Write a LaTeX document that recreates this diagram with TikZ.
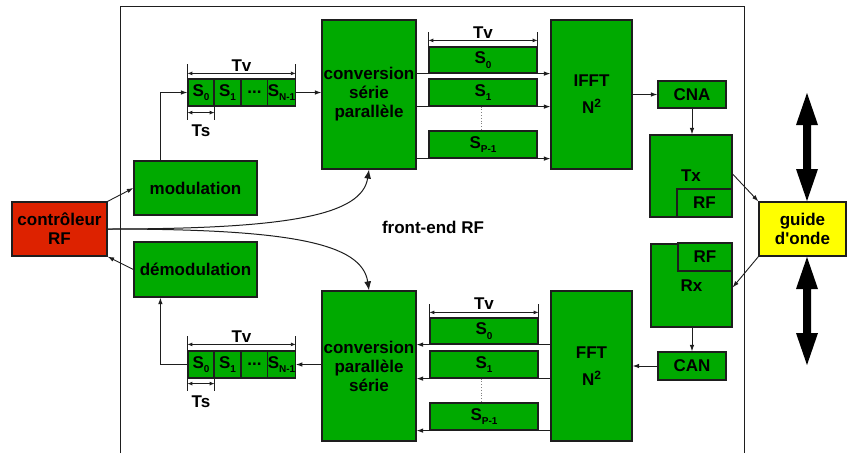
\documentclass[tikz,border=0pt]{standalone}
\usepackage{fontspec}
\setmainfont{Liberation Sans}[Ligatures=TeXOff]
\usetikzlibrary{arrows.meta,calc}
\definecolor{grn}{RGB}{0,170,0}
\definecolor{ctrlred}{RGB}{221,34,0}
\definecolor{gyellow}{RGB}{255,255,0}
\definecolor{bord}{RGB}{30,30,30}
\newcommand{\subs}[1]{\raisebox{-4.5pt}{\fontsize{10}{10}\selectfont #1}}
\begin{document}
\begin{tikzpicture}[x=1pt,y=-1pt,
  font=\fontsize{17}{19}\selectfont\bfseries,
  blk/.style={draw=bord,fill=grn,line width=1.2pt,inner sep=0pt,align=center},
  arr/.style={-{Latex[length=6.5pt,width=4.5pt]},line width=0.9pt,draw=bord},
  bigarr/.style={-{Latex[length=9pt,width=7pt]},line width=1pt,draw=bord},
  dimarr/.style={{Latex[length=5pt,width=4pt]}-{Latex[length=5pt,width=4pt]},line width=0.9pt,draw=bord},
  ext/.style={line width=0.8pt,draw=bord},
  lbl/.style={inner sep=0pt}]
\useasboundingbox (0,0) rectangle (847,453);
% frame
\draw[line width=1pt,bord] (120,453) -- (120,6) -- (744,6) -- (744,453);

% main blocks
\node[blk,fill=ctrlred,minimum width=95pt,minimum height=54pt] (ctrl) at (59.5,229) {contrôleur\\RF};
\node[blk,minimum width=123pt,minimum height=54pt] (mod) at (195.5,188) {modulation};
\node[blk,minimum width=123pt,minimum height=55pt] (demod) at (195.5,269.5) {démodulation};
\node[blk,minimum width=94pt,minimum height=149pt] (conv1) at (369,94.5) {conversion\\série\\parallèle};
\node[blk,minimum width=94pt,minimum height=150pt] (conv2) at (369,366) {conversion\\parallèle\\série};
\node[blk,minimum width=81pt,minimum height=149pt] (ifft) at (591.5,94.5) {IFFT\\[8pt]N\raisebox{6pt}{\fontsize{12}{12}\selectfont 2}};
\node[blk,minimum width=81pt,minimum height=150pt] (fft) at (591.5,366) {FFT\\[8pt]N\raisebox{6pt}{\fontsize{12}{12}\selectfont 2}};
\node[blk,minimum width=68pt,minimum height=27pt] (cna) at (692,94.5) {CNA};
\node[blk,minimum width=68pt,minimum height=28pt] (can) at (692,366) {CAN};
\node[blk,minimum width=82pt,minimum height=82pt] (tx) at (691,176) {Tx};
\node[blk,minimum width=55pt,minimum height=28pt] (txrf) at (704.5,203) {RF};
\node[blk,minimum width=81pt,minimum height=83pt] (rx) at (691.5,285.5) {Rx};
\node[blk,minimum width=54pt,minimum height=28pt] (rxrf) at (705,257) {RF};
\node[blk,fill=gyellow,minimum width=87pt,minimum height=54pt] (guide) at (802.5,229) {guide\\d'onde};

% top symbol strip
\node[blk,minimum width=26pt,minimum height=27pt] (ts0) at (201,92.5) {S\subs{0}};
\node[blk,minimum width=27pt,minimum height=27pt] (ts1) at (227.5,92.5) {S\subs{1}};
\node[blk,minimum width=27pt,minimum height=27pt] (tsd) at (254.5,92.5) {...};
\node[blk,minimum width=27pt,minimum height=27pt] (tsn) at (281.5,92.5) {S\subs{N-1}};
% bottom symbol strip
\node[blk,minimum width=26pt,minimum height=27pt] (bs0) at (201,364.5) {S\subs{0}};
\node[blk,minimum width=27pt,minimum height=27pt] (bs1) at (227.5,364.5) {S\subs{1}};
\node[blk,minimum width=27pt,minimum height=27pt] (bsd) at (254.5,364.5) {...};
\node[blk,minimum width=27pt,minimum height=27pt] (bsn) at (281.5,364.5) {S\subs{N-1}};

% top parallel S boxes
\node[blk,minimum width=108pt,minimum height=26pt] (tp0) at (483,60) {S\subs{0}};
\node[blk,minimum width=108pt,minimum height=27pt] (tp1) at (483,92.5) {S\subs{1}};
\node[blk,minimum width=108pt,minimum height=27pt] (tpp) at (483,144.5) {S\subs{P-1}};
% bottom parallel S boxes
\node[blk,minimum width=108pt,minimum height=26pt] (bp0) at (484,331) {S\subs{0}};
\node[blk,minimum width=108pt,minimum height=27pt] (bp1) at (484,364.5) {S\subs{1}};
\node[blk,minimum width=108pt,minimum height=27pt] (bpp) at (484,416.5) {S\subs{P-1}};

\draw[dotted,line width=0.8pt,gray] ([xshift=-2pt]tp1.south) -- ([xshift=-2pt]tpp.north);
\draw[dotted,line width=0.8pt,gray] ([xshift=-3pt]bp1.south) -- ([xshift=-3pt]bpp.north);

\node[lbl] (frontend) at (433,227) {front-end RF};

% dimension marks top strip
\draw[ext] (ts0.north west) -- ++(0,-14);
\draw[ext] (tsn.north east) -- ++(0,-14);
\draw[dimarr] ([yshift=5pt]ts0.north west) -- ([yshift=5pt]tsn.north east);
\node[lbl] (tvtop) at (241.5,66) {Tv};
\draw[ext] (ts0.south west) -- ++(0,13);
\draw[ext] (ts0.south east) -- ++(0,13);
\draw[dimarr] ([yshift=-6pt]ts0.south west) -- ([yshift=-6pt]ts0.south east);
\node[lbl] (tstop) at (201,131) {Ts};
% dimension marks bottom strip
\draw[ext] (bs0.north west) -- ++(0,-14);
\draw[ext] (bsn.north east) -- ++(0,-14);
\draw[dimarr] ([yshift=6pt]bs0.north west) -- ([yshift=6pt]bsn.north east);
\node[lbl] (tvbot) at (241.5,336.5) {Tv};
\draw[ext] (bs0.south west) -- ++(0,12);
\draw[ext] (bs0.south east) -- ++(0,12);
\draw[dimarr] ([yshift=-5pt]bs0.south west) -- ([yshift=-5pt]bs0.south east);
\node[lbl] (tsbot) at (201,401.5) {Ts};
% dimension marks parallel boxes
\draw[ext] (tp0.north west) -- ++(0,-14);
\draw[ext] (tp0.north east) -- ++(0,-14);
\draw[dimarr] ([yshift=6pt]tp0.north west) -- ([yshift=6pt]tp0.north east);
\node[lbl] (tvpt) at (483,33) {Tv};
\draw[ext] (bp0.north west) -- ++(0,-13);
\draw[ext] (bp0.north east) -- ++(0,-13);
\draw[dimarr] ([yshift=5pt]bp0.north west) -- ([yshift=5pt]bp0.north east);
\node[lbl] (tvpb) at (484,304) {Tv};

% connectors
\draw[arr] (ctrl.north east) -- (mod.west);
\draw[arr] (demod.west) -- (ctrl.south east);
\draw[bigarr] (ctrl.east) .. controls (290,229) and (362,215) .. (conv1.south);
\draw[bigarr] (ctrl.east) .. controls (290,229) and (362,243) .. (conv2.north);
\draw[arr] ([xshift=27pt]mod.north west) |- (ts0.west);
\draw[arr] (tsn.east) -- (tsn.east -| conv1.west);
\draw[arr] (conv1.east |- tp0.south) -- (ifft.west |- tp0.south);
\draw[arr] (conv1.east |- tp1.south) -- (ifft.west |- tp1.south);
\draw[arr] (conv1.east |- tpp.south) -- (ifft.west |- tpp.south);
\draw[arr] (ifft.east |- cna.west) -- (cna.west);
\draw[arr] (cna.south) -- (cna.south |- tx.north);
\draw[arr] ([yshift=2pt]tx.east) -- (guide.north west);
\draw[arr] (guide.south west) -- ([yshift=-2pt]rx.east);
\draw[arr] (rx.south -| can.north) -- (can.north);
\draw[arr] (can.west) -- (can.west -| fft.east);
\draw[arr] (fft.west |- bp0.south) -- (conv2.east |- bp0.south);
\draw[arr] (fft.west |- bp1.south) -- (conv2.east |- bp1.south);
\draw[arr] (fft.west |- bpp.south) -- (conv2.east |- bpp.south);
\draw[arr] (conv2.west |- bsn.east) -- (bsn.east);
\draw[arr] (bs0.west) -| ([xshift=27pt]demod.south west);

% big double arrows
\fill[black] (807,93) -- (818,125) -- (811,125) -- (811,169) -- (818,169) -- (807,201)
  -- (796,169) -- (803,169) -- (803,125) -- (796,125) -- cycle;
\fill[black] (807,257) -- (818,289) -- (811,289) -- (811,333) -- (818,333) -- (807,365)
  -- (796,333) -- (803,333) -- (803,289) -- (796,289) -- cycle;
\end{tikzpicture}
\end{document}
